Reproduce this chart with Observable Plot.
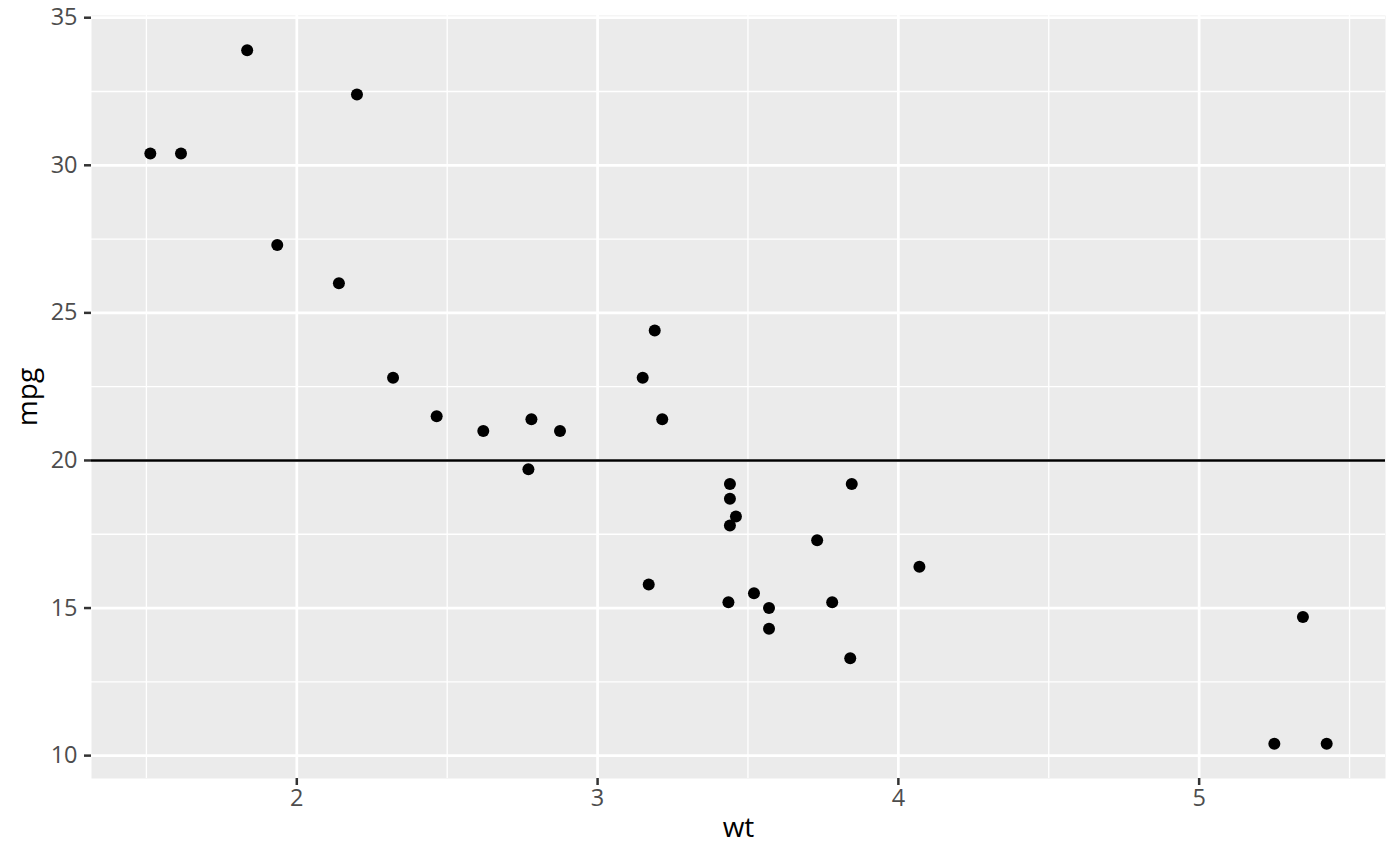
<!DOCTYPE html>
<html>
<head>
<meta charset="utf-8">
<script src="https://cdn.jsdelivr.net/npm/d3@7"></script>
<script src="https://cdn.jsdelivr.net/npm/@observablehq/plot@0.6"></script>
<style>
  html, body { margin: 0; padding: 0; background: #fff; }
  #chart svg { display: block; font-family: "Open Sans", sans-serif; }
</style>
</head>
<body>
<div id="chart"></div>
<script>
// mtcars: weight (1000 lbs) and miles per gallon
const wt  = [2.620, 2.875, 2.320, 3.215, 3.440, 3.460, 3.570, 3.190, 3.150, 3.440, 3.440,
             4.070, 3.730, 3.780, 5.250, 5.424, 5.345, 2.200, 1.615, 1.835, 2.465, 3.520,
             3.435, 3.840, 3.845, 1.935, 2.140, 1.513, 3.170, 2.770, 3.570, 2.780];
const mpg = [21.0, 21.0, 22.8, 21.4, 18.7, 18.1, 14.3, 24.4, 22.8, 19.2, 17.8,
             16.4, 17.3, 15.2, 10.4, 10.4, 14.7, 32.4, 30.4, 33.9, 21.5, 15.5,
             15.2, 13.3, 19.2, 27.3, 26.0, 30.4, 15.8, 19.7, 15.0, 21.4];
const hlineY = [20];
const xTicks = [2, 3, 4, 5];
const xMinor = [1.5, 2.5, 3.5, 4.5, 5.5];
const yTicks = [10, 15, 20, 25, 30, 35];
const yMinor = [12.5, 17.5, 22.5, 27.5, 32.5];

const data = wt.map((w, i) => ({wt: w, mpg: mpg[i]}));
const xr = d3.extent(wt), yr = d3.extent(mpg);
const xpad = (xr[1] - xr[0]) * 0.05, ypad = (yr[1] - yr[0]) * 0.05;

const chart = Plot.plot({
  width: 1400,
  height: 866,
  marginLeft: 91,
  marginRight: 15,
  marginTop: 15,
  marginBottom: 88,
  x: {domain: [xr[0] - xpad, xr[1] + xpad]},
  y: {domain: [yr[0] - ypad, yr[1] + ypad]},
  marks: [
    Plot.frame({fill: "#EBEBEB", stroke: null}),
    Plot.ruleX(xMinor, {stroke: "white", strokeWidth: 1.3}),
    Plot.ruleY(yMinor, {stroke: "white", strokeWidth: 1.3}),
    Plot.ruleX(xTicks, {stroke: "white", strokeWidth: 2.7}),
    Plot.ruleY(yTicks, {stroke: "white", strokeWidth: 2.7}),
    Plot.axisX({ticks: xTicks, tickSize: 7, tickPadding: 4, fontSize: 23.5, fill: "#4D4D4D",
                stroke: "#333333", strokeWidth: 2.5, label: null, tickFormat: d => String(d)}),
    Plot.axisY({ticks: yTicks, tickSize: 7, tickPadding: 7, fontSize: 23.5, fill: "#4D4D4D",
                stroke: "#333333", strokeWidth: 2.5, label: null, tickFormat: d => String(d)}),
    Plot.text(["wt"], {frameAnchor: "bottom", dy: 58, fontSize: 28, fill: "black"}),
    Plot.text(["mpg"], {frameAnchor: "left", textAnchor: "middle", dx: -63, rotate: -90, fontSize: 28, fill: "black"}),
    Plot.dot(data, {x: "wt", y: "mpg", r: 6, fill: "black", stroke: null}),
    Plot.ruleY(hlineY, {stroke: "black", strokeWidth: 2.5})
  ]
});
document.getElementById("chart").appendChild(chart);
</script>
</body>
</html>
